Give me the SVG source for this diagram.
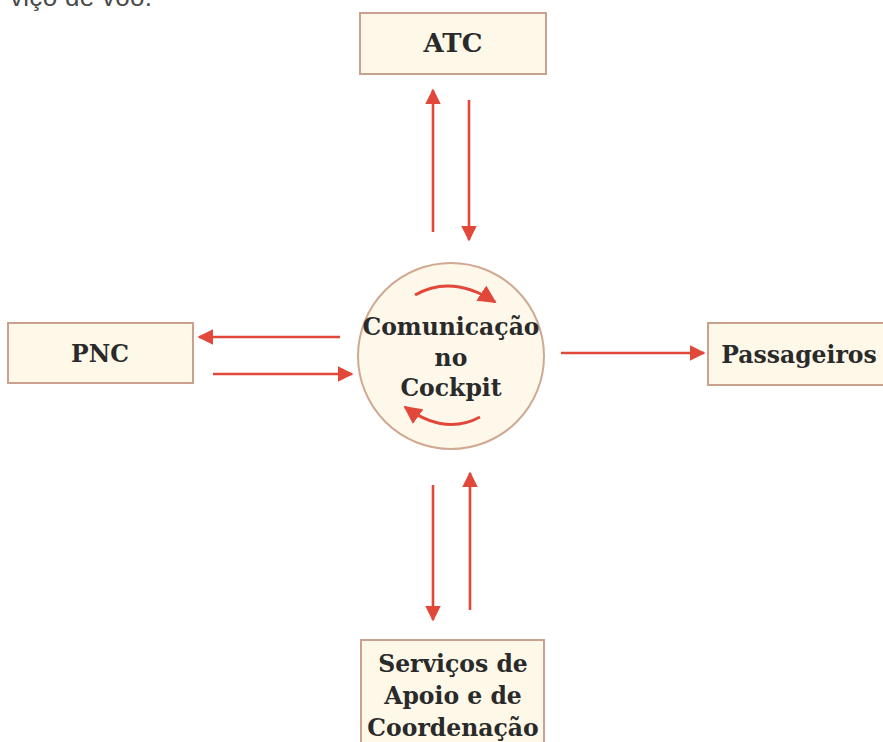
<svg xmlns="http://www.w3.org/2000/svg" width="883" height="742" viewBox="0 0 883 742">
  <defs>
    <marker id="head" viewBox="0 0 10 10" refX="9" refY="5" markerWidth="6" markerHeight="6" markerUnits="strokeWidth" orient="auto">
      <path d="M0,0 L10,5 L0,10 z" fill="#e2483a"/>
    </marker>
    <marker id="headBig" viewBox="0 0 10 10" refX="9" refY="5" markerWidth="6.5" markerHeight="6.5" markerUnits="strokeWidth" orient="auto">
      <path d="M0,0 L10,5 L0,10 z" fill="#e2483a"/>
    </marker>
    <style>
      .box { fill: #fdf8e7; stroke: #c9a18e; stroke-width: 2; }
      .hub { fill: #fdf8ea; stroke: #cfa992; stroke-width: 2; }
      .lbl { font-family: "DejaVu Serif", "Liberation Serif", serif; font-weight: bold; font-size: 23.5px; fill: #2a2a2a; text-anchor: middle; }
      .arr { stroke: #e2483a; stroke-width: 2.6; fill: none; marker-end: url(#head); }
      .loop { stroke: #e2483a; stroke-width: 2.8; fill: none; marker-end: url(#headBig); }
      .cap { font-family: "Liberation Sans", Arial, sans-serif; font-size: 26px; fill: #4a4a4a; }
    </style>
  </defs>
  <rect width="883" height="742" fill="#ffffff"/>

  <!-- caption fragment from the page above -->
  <text class="cap" x="10" y="6" textLength="142">viço de voo.</text>

  <!-- connectors between the hub and the outer boxes -->
  <g id="connectors">
    <line class="arr" x1="433" y1="232" x2="433" y2="90"/>
    <line class="arr" x1="469" y1="100" x2="469" y2="240"/>
    <line class="arr" x1="340" y1="337" x2="199" y2="337"/>
    <line class="arr" x1="213" y1="374" x2="352" y2="374"/>
    <line class="arr" x1="561" y1="353" x2="704" y2="353"/>
    <line class="arr" x1="433" y1="485" x2="433" y2="620"/>
    <line class="arr" x1="470" y1="610" x2="470" y2="473"/>
  </g>

  <g id="atc">
    <rect class="box" x="360" y="13" width="186" height="61"/>
    <text class="lbl" x="453" y="52" style="font-size:26px">ATC</text>
  </g>

  <g id="pnc">
    <rect class="box" x="8" y="323" width="185" height="60"/>
    <text class="lbl" x="100" y="362">PNC</text>
  </g>

  <g id="passageiros">
    <rect class="box" x="708" y="323" width="185" height="62"/>
    <text class="lbl" x="799" y="363">Passageiros</text>
  </g>

  <g id="servicos">
    <rect class="box" x="361" y="640" width="183" height="110"/>
    <text class="lbl" x="453" y="672">Serviços de</text>
    <text class="lbl" x="453" y="704">Apoio e de</text>
    <text class="lbl" x="453" y="736">Coordenação</text>
  </g>

  <g id="cockpit">
    <circle class="hub" cx="451" cy="356" r="93"/>
    <text class="lbl" x="451" y="335">Comunicação</text>
    <text class="lbl" x="451" y="366">no</text>
    <text class="lbl" x="451" y="396">Cockpit</text>
    <!-- circular flow arrows inside the hub -->
    <path class="loop" d="M415,295 Q452,274 495,302"/>
    <path class="loop" d="M480,417 Q445,436 405,407"/>
  </g>
</svg>
